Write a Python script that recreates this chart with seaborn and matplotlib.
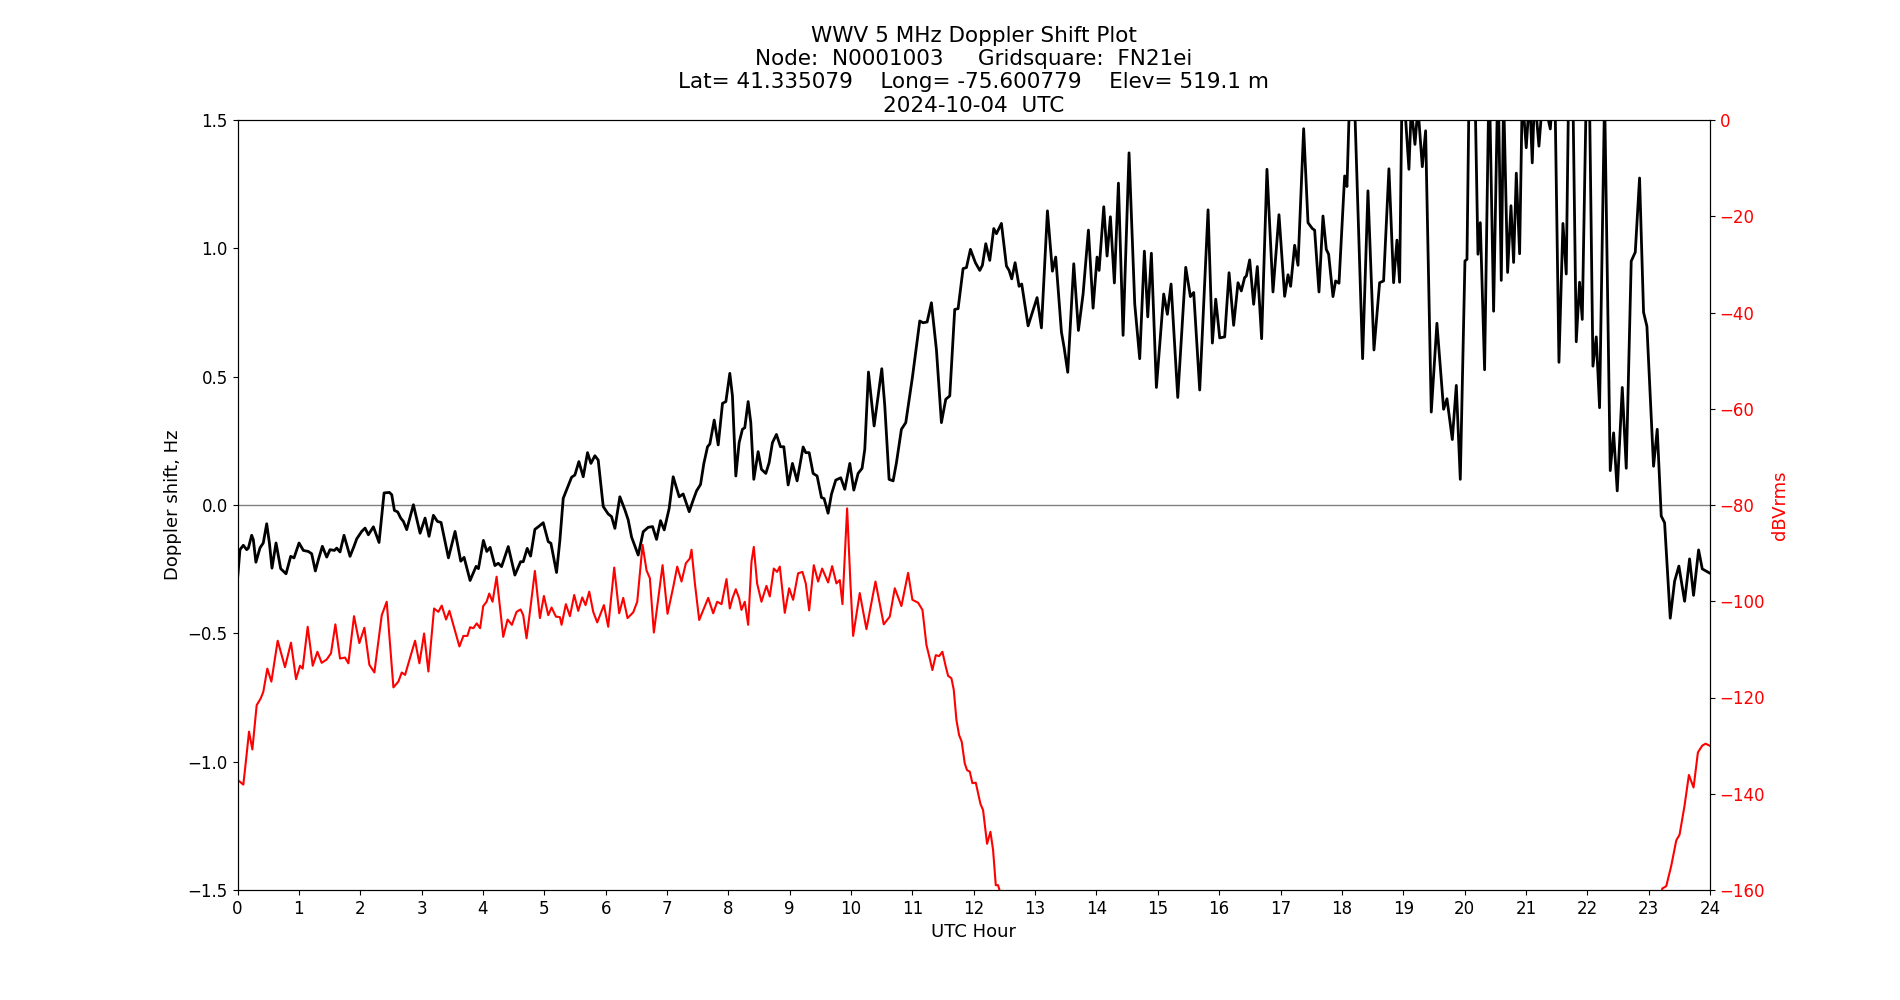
import numpy as np
import pandas as pd
import matplotlib
matplotlib.use("Agg")
import matplotlib.pyplot as plt
import seaborn as sb

# ---------------- data ----------------
# Doppler shift (Hz) vs UTC hour
dop_hour = [0.0, 0.04, 0.095, 0.15, 0.177, 0.231, 0.258, 0.30, 0.367, 0.42, 0.476, 0.52, 0.562, 0.628,
            0.704, 0.791, 0.867, 0.921, 1.003, 1.073, 1.155, 1.209, 1.269, 1.318, 1.383, 1.454, 1.508,
            1.579, 1.617, 1.671, 1.736, 1.834, 1.899, 1.943, 2.024, 2.079, 2.133, 2.215, 2.307, 2.389,
            2.476, 2.514, 2.557, 2.611, 2.66, 2.704, 2.758, 2.867, 2.976, 3.057, 3.122, 3.193, 3.258,
            3.318, 3.438, 3.546, 3.639, 3.693, 3.791, 3.889, 3.927, 4.008, 4.063, 4.117,
            4.195, 4.25, 4.304, 4.413, 4.521, 4.614, 4.657, 4.722, 4.777, 4.847, 4.918, 4.983, 5.065,
            5.108, 5.2, 5.255, 5.309, 5.374, 5.445, 5.499, 5.564, 5.635, 5.705, 5.76, 5.825, 5.879,
            5.961, 6.042, 6.096, 6.151, 6.232, 6.314, 6.368, 6.423, 6.531, 6.613, 6.694, 6.765, 6.83,
            6.895, 6.955, 7.036, 7.101, 7.199, 7.264, 7.362, 7.427, 7.482, 7.547, 7.601, 7.661, 7.699,
            7.77, 7.835, 7.905, 7.96,
            8.024, 8.067, 8.122, 8.176, 8.23, 8.268, 8.323, 8.366, 8.415, 8.486, 8.54, 8.611, 8.665,
            8.719, 8.784, 8.85, 8.904, 8.975, 9.045, 9.121, 9.219, 9.262, 9.317, 9.382, 9.447, 9.518,
            9.561, 9.626, 9.681, 9.751, 9.833, 9.898, 9.98, 10.045, 10.115, 10.18, 10.224, 10.284,
            10.376, 10.441, 10.501, 10.55, 10.62, 10.686, 10.74, 10.821, 10.892, 11.0, 11.12, 11.174,
            11.24, 11.31, 11.392, 11.473, 11.544, 11.609, 11.69, 11.745, 11.826, 11.881, 11.946, 12.027,
            12.098, 12.141, 12.196, 12.261, 12.326, 12.37, 12.451, 12.533, 12.576, 12.619, 12.674,
            12.739, 12.782, 12.886, 13.032, 13.103, 13.201, 13.282, 13.336, 13.429, 13.472, 13.532,
            13.63, 13.706, 13.782, 13.869, 13.945, 14.01, 14.043, 14.119, 14.173, 14.227, 14.292,
            14.358, 14.434, 14.531, 14.624, 14.705, 14.781, 14.836, 14.895, 14.977, 15.096, 15.156,
            15.216, 15.325, 15.455, 15.531, 15.585, 15.683, 15.819, 15.889, 15.944, 16.009, 16.09, 16.161,
            16.236, 16.307, 16.361, 16.415, 16.443, 16.497, 16.562, 16.622, 16.692, 16.779, 16.877,
            16.975, 17.067, 17.122, 17.165, 17.23, 17.285, 17.377, 17.448, 17.518, 17.556, 17.627,
            17.692, 17.746, 17.784, 17.855, 17.898, 17.953, 18.045, 18.083, 18.14, 18.19, 18.338,
            18.425, 18.523, 18.615, 18.68, 18.767, 18.843, 18.898, 18.941, 18.985, 19.093, 19.131,
            19.191, 19.24, 19.311, 19.365, 19.457, 19.549, 19.658, 19.713, 19.8, 19.865, 19.93, 20.006,
            20.039, 20.08, 20.16, 20.218, 20.256, 20.326, 20.40, 20.473, 20.545, 20.598, 20.636, 20.701,
            20.756, 20.799, 20.843, 20.897, 20.94, 21.005, 21.06, 21.103, 21.141, 21.212, 21.277,
            21.397, 21.467, 21.538, 21.603, 21.657, 21.70, 21.76, 21.82, 21.874, 21.918, 21.99, 22.03,
            22.092, 22.146, 22.2, 22.282, 22.374, 22.429, 22.488, 22.57, 22.635, 22.716, 22.782,
            22.852, 22.917, 22.972, 23.08, 23.14, 23.205, 23.26, 23.352, 23.423, 23.493, 23.586,
            23.667, 23.732, 23.814, 23.874, 23.993]
dop_hz = [-0.29, -0.174, -0.157, -0.174, -0.168, -0.118, -0.135, -0.223, -0.167, -0.148, -0.073, -0.148,
          -0.246, -0.148, -0.248, -0.268, -0.2, -0.206, -0.148, -0.177, -0.181, -0.19, -0.257, -0.213,
          -0.161, -0.203, -0.174, -0.177, -0.168, -0.183, -0.118, -0.2, -0.161, -0.132, -0.103, -0.09,
          -0.116, -0.085, -0.146, 0.047, 0.049, 0.04, -0.021, -0.027, -0.051, -0.064, -0.096, 0.001,
          -0.11, -0.051, -0.122, -0.04, -0.064, -0.068, -0.206, -0.103, -0.219, -0.204, -0.294, -0.239,
          -0.248, -0.138, -0.181, -0.165,
          -0.236, -0.227, -0.240, -0.162, -0.273, -0.221, -0.221, -0.169, -0.199, -0.095, -0.082,
          -0.069, -0.143, -0.149, -0.263, -0.136, 0.026, 0.065, 0.108, 0.117, 0.169, 0.110, 0.204,
          0.162, 0.192, 0.175, -0.006, -0.035, -0.045, -0.091, 0.032, -0.019, -0.058, -0.125, -0.195,
          -0.104, -0.087, -0.084, -0.134, -0.061, -0.097, -0.013, 0.110, 0.032, 0.043, -0.026, 0.019,
          0.055, 0.080, 0.162, 0.227, 0.238, 0.331, 0.234, 0.396, 0.403,
          0.513, 0.425, 0.113, 0.243, 0.295, 0.301, 0.403, 0.321, 0.100, 0.208, 0.139, 0.123, 0.165,
          0.243, 0.275, 0.227, 0.227, 0.078, 0.162, 0.094, 0.226, 0.204, 0.204, 0.123, 0.113, 0.029,
          0.025, -0.032, 0.042, 0.097, 0.106, 0.061, 0.162, 0.058, 0.123, 0.143, 0.217, 0.518, 0.308,
          0.425, 0.531, 0.386, 0.100, 0.094, 0.165, 0.295, 0.321, 0.497, 0.717, 0.710, 0.713, 0.788,
          0.604, 0.321, 0.412, 0.425, 0.762, 0.765, 0.921, 0.925, 0.996, 0.944,
          0.914, 0.934, 1.018, 0.953, 1.077, 1.057, 1.097, 0.931, 0.914, 0.881, 0.944, 0.852, 0.861,
          0.698, 0.808, 0.690, 1.146, 0.911, 0.966, 0.674, 0.615, 0.517, 0.940, 0.680, 0.822, 1.071,
          0.767, 0.966, 0.914, 1.162, 0.970, 1.123, 0.865, 1.254, 0.661, 1.372, 0.783, 0.570, 0.989,
          0.733, 0.981, 0.458, 0.822, 0.743, 0.861, 0.419, 0.926, 0.812, 0.828, 0.448, 1.150, 0.631,
          0.802, 0.651, 0.655, 0.905,
          0.700, 0.866, 0.834, 0.886, 0.892, 0.955, 0.782, 0.929, 0.648, 1.308, 0.830, 1.131, 0.813,
          0.897, 0.852, 1.012, 0.934, 1.466, 1.100, 1.077, 1.071, 0.830, 1.126, 0.996, 0.977, 0.812,
          0.873, 0.864, 1.282, 1.241, 1.7, 1.7, 0.570, 1.224, 0.604, 0.866, 0.873, 1.31, 0.866, 1.032,
          0.868, 1.7, 1.308, 1.55, 1.405, 1.55, 1.318, 1.458, 0.362, 0.708, 0.373, 0.414, 0.255, 0.466,
          0.1, 0.951, 0.957, 1.75, 1.75, 0.977, 1.1, 0.527, 1.7, 0.755, 1.7, 0.875, 1.6, 0.906, 1.166,
          0.945, 1.293, 0.979, 1.6, 1.392, 1.6, 1.333, 1.6, 1.398, 1.6, 1.465, 1.7, 0.556, 1.097, 0.9,
          1.7, 1.7, 0.636, 0.868, 0.723, 1.7, 1.7, 0.541, 0.655, 0.379, 1.6, 0.134, 0.281, 0.055, 0.458,
          0.143, 0.950, 0.985, 1.274, 0.751, 0.696, 0.151, 0.295, -0.043, -0.069, -0.441, -0.297,
          -0.238, -0.375, -0.210, -0.352, -0.175, -0.249, -0.265]

# signal level (dBVrms) vs UTC hour
amp_hour = [0.0, 0.095, 0.133, 0.188, 0.242, 0.3125, 0.378, 0.421, 0.486, 0.552, 0.655, 0.774, 0.872,
            0.954, 1.019, 1.062, 1.144, 1.226, 1.302, 1.372, 1.454, 1.524, 1.595, 1.671, 1.753, 1.807,
            1.899, 1.986, 2.068, 2.149, 2.231, 2.351, 2.432, 2.541, 2.622, 2.677, 2.731, 2.813, 2.894,
            2.965, 3.041, 3.111, 3.204, 3.274, 3.329, 3.399, 3.454, 3.617, 3.682, 3.747, 3.791, 3.845,
            3.899, 3.954,
            4.005, 4.06, 4.103, 4.157, 4.223, 4.277, 4.331, 4.402, 4.472, 4.548, 4.614, 4.657, 4.711,
            4.777, 4.847, 4.929, 4.994, 5.065, 5.119, 5.19, 5.255, 5.282, 5.352, 5.418, 5.488, 5.553,
            5.619, 5.673, 5.733, 5.798, 5.863, 5.972, 6.042, 6.14, 6.221, 6.287, 6.357, 6.45, 6.515,
            6.602, 6.667, 6.721, 6.786, 6.928, 7.009, 7.101, 7.167, 7.237, 7.308, 7.373, 7.4, 7.455,
            7.525, 7.672, 7.753, 7.818, 7.889, 7.97,
            8.024, 8.067, 8.122, 8.176, 8.214, 8.268, 8.323, 8.377, 8.415, 8.469, 8.54, 8.621, 8.676,
            8.741, 8.795, 8.839, 8.92, 8.991, 9.056, 9.137, 9.208, 9.262, 9.317, 9.393, 9.463, 9.529,
            9.626, 9.692, 9.762, 9.817, 9.86, 9.936, 9.99, 10.034, 10.142, 10.251, 10.398, 10.533,
            10.631, 10.713, 10.821, 10.93, 11.0, 11.093, 11.164, 11.229,
            11.283, 11.326, 11.381, 11.435, 11.489, 11.544, 11.582, 11.636, 11.674, 11.718, 11.761,
            11.804, 11.853, 11.891, 11.935, 11.978, 12.033, 12.071, 12.109, 12.152, 12.217, 12.272,
            12.315, 12.359, 12.396, 12.424, 12.5, 23.15,
            23.222, 23.287, 23.368, 23.45, 23.504, 23.586, 23.656, 23.732, 23.803, 23.874, 23.928, 23.993]
amp_db = [-137.1, -138.1, -133.7, -127.1, -130.8, -121.6, -120.2, -118.8, -114.0, -116.7, -108.2, -113.7,
          -108.6, -116.2, -113.4, -114.0, -105.3, -113.4, -110.5, -112.8, -112.1, -110.8, -104.8, -111.9,
          -111.7, -112.9, -103.1, -108.7, -105.5, -113.2, -114.8, -102.9, -100.1, -117.9, -116.7, -114.8,
          -115.3, -111.7, -108.2, -112.9, -106.7, -114.6, -101.5, -102.2, -100.9, -103.8, -102.0, -109.4,
          -107.2, -107.2, -105.4, -105.6, -104.6, -105.6,
          -101.0, -100.1, -98.4, -100.1, -94.9, -101.1, -107.4, -103.8, -104.9, -102.2, -101.7, -102.9,
          -107.7, -101.1, -93.7, -103.5, -98.9, -102.9, -101.3, -103.2, -103.3, -104.9, -100.6, -103.1,
          -98.7, -102.0, -99.2, -100.8, -98.0, -102.2, -104.4, -100.8, -105.3, -93.0, -102.5, -99.3,
          -103.5, -102.3, -100.1, -88.3, -93.6, -95.2, -106.5, -92.5, -102.6, -97.1, -92.8, -95.9, -92.1,
          -91.1, -89.3, -96.3, -103.9, -99.3, -102.5, -100.1, -100.6, -95.4,
          -101.5, -99.4, -97.5, -99.4, -101.8, -100.1, -104.9, -91.8, -88.7, -96.3, -100.1, -96.8, -99.0,
          -93.2, -93.9, -92.8, -102.4, -97.3, -99.7, -94.2, -93.9, -96.3, -101.9, -92.5, -95.9, -93.2,
          -96.1, -92.7, -96.3, -95.6, -100.6, -80.7, -96.3, -107.2, -98.3, -105.8, -95.9, -104.8, -103.2,
          -97.3, -101.0, -94.1, -99.7, -100.3, -101.8, -109.1,
          -111.9, -114.3, -111.2, -111.4, -110.5, -113.6, -115.5, -116.0, -118.4, -124.7, -127.8, -129.2,
          -133.7, -135.1, -135.4, -137.8, -137.7, -139.9, -142.1, -143.4, -150.4, -147.9, -151.7, -159.0,
          -159.0, -160.2, -170.0, -170.0,
          -159.7, -159.2, -155.0, -149.7, -148.5, -142.4, -136.1, -138.7, -131.4, -130.0, -129.6, -130.0]

title_lines = ["WWV 5 MHz Doppler Shift Plot",
               "Node:  N0001003     Gridsquare:  FN21ei",
               "Lat= 41.335079    Long= -75.600779    Elev= 519.1 m",
               "2024-10-04  UTC"]

dop = pd.DataFrame({"hour": dop_hour, "shift": dop_hz})
amp = pd.DataFrame({"hour": amp_hour, "db": amp_db})

# ---------------- plotting ----------------
fig, ax = plt.subplots(figsize=(19, 10), dpi=100)

ax.axhline(0, color="gray", linewidth=1)
sb.lineplot(x="hour", y="shift", data=dop, ax=ax, color="black", linewidth=2, sort=False)
ax.set_xlim(0, 24)
ax.set_ylim(-1.5, 1.5)
ax.set_xticks(range(0, 25))
ax.set_yticks(np.arange(-1.5, 1.51, 0.5))
ax.set_xlabel("UTC Hour", fontsize=13)
ax.set_ylabel("Doppler shift, Hz", fontsize=13)
ax.tick_params(labelsize=12)
ax.set_title("\n".join(title_lines), fontsize=15.5)

ax2 = ax.twinx()
sb.lineplot(x="hour", y="db", data=amp, ax=ax2, color="red", linewidth=1.5, sort=False)
ax2.set_ylim(-160, 0)
ax2.set_yticks(range(-160, 1, 20))
ax2.set_ylabel("dBVrms", color="red", fontsize=13)
ax2.tick_params(axis="y", labelcolor="red", labelsize=12)

plt.savefig("out.png", dpi=100)
